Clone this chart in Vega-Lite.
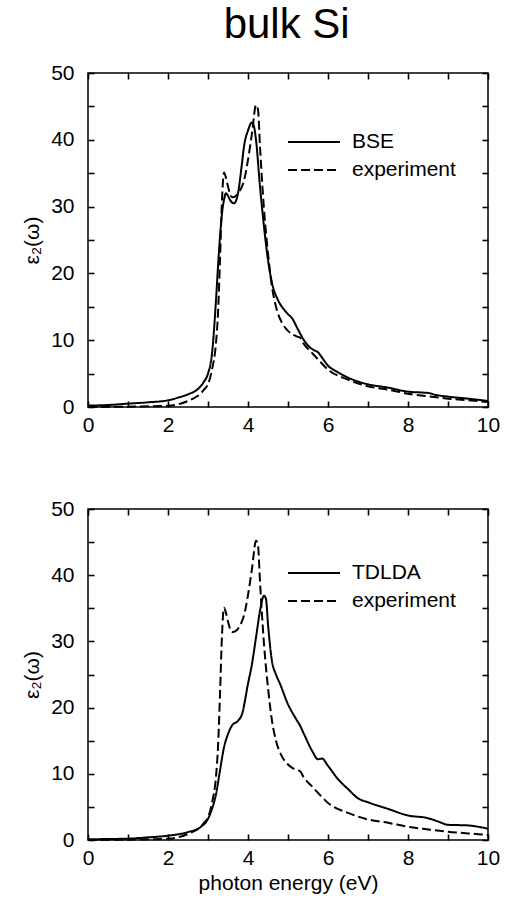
{
  "$schema": "https://vega.github.io/schema/vega-lite/v6.json",
  "padding": {"left": 20, "top": 4, "right": 5, "bottom": 5},
  "title": {"text": "bulk Si", "fontSize": 42, "fontWeight": "normal", "font": "Liberation Sans", "color": "black", "anchor": "middle", "offset": 14, "dx": 26},
  "config": {
    "font": "Liberation Sans",
    "view": {"stroke": "black", "strokeWidth": 1.5},
    "axis": {"grid": false, "domain": false, "ticks": true, "tickColor": "black", "tickOpacity": 1, "tickSize": 6, "offset": -6, "tickWidth": 1.6, "zindex": 1,
      "labelFontSize": 21, "labelColor": "black", "labelFont": "Liberation Sans", "labelFlush": false, "labelOverlap": false,
      "titleFontSize": 21, "titleFontWeight": "normal", "titleColor": "black", "titleFont": "Liberation Sans"},
    "legend": {"orient": "none", "title": null, "symbolType": "M-1,0H3", "symbolSize": 676, "symbolStrokeWidth": 2,
      "symbolStrokeColor": "black", "labelFontSize": 21, "labelColor": "black", "labelFont": "Liberation Sans", "labelOffset": 37, "rowPadding": 4}
  },
  "datasets": {
    "top": [
      {"E":0,"eps":0.2,"s":"BSE"},{"E":0.5,"eps":0.3,"s":"BSE"},{"E":1,"eps":0.5,"s":"BSE"},{"E":1.5,"eps":0.7,"s":"BSE"},{"E":2,"eps":1.0,"s":"BSE"},{"E":2.25,"eps":1.4,"s":"BSE"},{"E":2.5,"eps":1.9,"s":"BSE"},{"E":2.75,"eps":2.7,"s":"BSE"},{"E":2.9,"eps":3.8,"s":"BSE"},{"E":3.0,"eps":5,"s":"BSE"},{"E":3.1,"eps":8,"s":"BSE"},{"E":3.2,"eps":16,"s":"BSE"},{"E":3.25,"eps":21,"s":"BSE"},{"E":3.3,"eps":25.5,"s":"BSE"},{"E":3.35,"eps":29,"s":"BSE"},{"E":3.4,"eps":31,"s":"BSE"},{"E":3.45,"eps":32,"s":"BSE"},{"E":3.5,"eps":31.6,"s":"BSE"},{"E":3.55,"eps":31,"s":"BSE"},{"E":3.65,"eps":30.5,"s":"BSE"},{"E":3.75,"eps":32,"s":"BSE"},{"E":3.85,"eps":36.5,"s":"BSE"},{"E":3.9,"eps":39,"s":"BSE"},{"E":4.0,"eps":41.4,"s":"BSE"},{"E":4.1,"eps":42.6,"s":"BSE"},{"E":4.15,"eps":42,"s":"BSE"},{"E":4.2,"eps":40,"s":"BSE"},{"E":4.3,"eps":33,"s":"BSE"},{"E":4.4,"eps":27,"s":"BSE"},{"E":4.5,"eps":22,"s":"BSE"},{"E":4.6,"eps":18.6,"s":"BSE"},{"E":4.75,"eps":16,"s":"BSE"},{"E":4.9,"eps":14.6,"s":"BSE"},{"E":5.0,"eps":13.9,"s":"BSE"},{"E":5.1,"eps":13.3,"s":"BSE"},{"E":5.25,"eps":11.6,"s":"BSE"},{"E":5.4,"eps":10,"s":"BSE"},{"E":5.5,"eps":9.2,"s":"BSE"},{"E":5.65,"eps":8.5,"s":"BSE"},{"E":5.75,"eps":8.2,"s":"BSE"},{"E":5.85,"eps":7.4,"s":"BSE"},{"E":6.0,"eps":6.2,"s":"BSE"},{"E":6.25,"eps":5.2,"s":"BSE"},{"E":6.5,"eps":4.4,"s":"BSE"},{"E":7.0,"eps":3.4,"s":"BSE"},{"E":7.5,"eps":2.9,"s":"BSE"},{"E":8.0,"eps":2.3,"s":"BSE"},{"E":8.4,"eps":2.15,"s":"BSE"},{"E":8.5,"eps":2.1,"s":"BSE"},{"E":8.7,"eps":1.8,"s":"BSE"},{"E":9.0,"eps":1.55,"s":"BSE"},{"E":9.5,"eps":1.25,"s":"BSE"},{"E":10,"eps":0.9,"s":"BSE"},
      {"E":0,"eps":0.0,"s":"experiment"},{"E":0.5,"eps":0.02,"s":"experiment"},{"E":1,"eps":0.05,"s":"experiment"},{"E":1.5,"eps":0.1,"s":"experiment"},{"E":2,"eps":0.2,"s":"experiment"},{"E":2.25,"eps":0.4,"s":"experiment"},{"E":2.5,"eps":0.9,"s":"experiment"},{"E":2.7,"eps":1.5,"s":"experiment"},{"E":2.8,"eps":1.9,"s":"experiment"},{"E":2.9,"eps":2.6,"s":"experiment"},{"E":3.0,"eps":3.4,"s":"experiment"},{"E":3.1,"eps":5.6,"s":"experiment"},{"E":3.2,"eps":9.6,"s":"experiment"},{"E":3.25,"eps":14,"s":"experiment"},{"E":3.3,"eps":22,"s":"experiment"},{"E":3.35,"eps":31,"s":"experiment"},{"E":3.4,"eps":35.1,"s":"experiment"},{"E":3.45,"eps":34.3,"s":"experiment"},{"E":3.5,"eps":33,"s":"experiment"},{"E":3.6,"eps":31.4,"s":"experiment"},{"E":3.7,"eps":31.6,"s":"experiment"},{"E":3.8,"eps":32.4,"s":"experiment"},{"E":3.9,"eps":33.9,"s":"experiment"},{"E":4.0,"eps":37,"s":"experiment"},{"E":4.1,"eps":41,"s":"experiment"},{"E":4.2,"eps":45.2,"s":"experiment"},{"E":4.25,"eps":44.5,"s":"experiment"},{"E":4.3,"eps":39,"s":"experiment"},{"E":4.4,"eps":29.6,"s":"experiment"},{"E":4.5,"eps":23,"s":"experiment"},{"E":4.6,"eps":18,"s":"experiment"},{"E":4.7,"eps":15,"s":"experiment"},{"E":4.85,"eps":12.6,"s":"experiment"},{"E":5.0,"eps":11.4,"s":"experiment"},{"E":5.2,"eps":10.6,"s":"experiment"},{"E":5.3,"eps":10.4,"s":"experiment"},{"E":5.4,"eps":9.4,"s":"experiment"},{"E":5.6,"eps":8.1,"s":"experiment"},{"E":5.8,"eps":6.8,"s":"experiment"},{"E":6.0,"eps":5.6,"s":"experiment"},{"E":6.5,"eps":4.1,"s":"experiment"},{"E":7.0,"eps":3.1,"s":"experiment"},{"E":7.5,"eps":2.6,"s":"experiment"},{"E":8.0,"eps":2.0,"s":"experiment"},{"E":8.5,"eps":1.6,"s":"experiment"},{"E":9.0,"eps":1.25,"s":"experiment"},{"E":9.5,"eps":1.0,"s":"experiment"},{"E":10,"eps":0.75,"s":"experiment"}
    ],
    "bottom": [
      {"E":0,"eps":0.1,"s":"TDLDA"},{"E":0.5,"eps":0.15,"s":"TDLDA"},{"E":1,"eps":0.2,"s":"TDLDA"},{"E":1.5,"eps":0.4,"s":"TDLDA"},{"E":2,"eps":0.65,"s":"TDLDA"},{"E":2.5,"eps":1.2,"s":"TDLDA"},{"E":2.8,"eps":1.9,"s":"TDLDA"},{"E":3.0,"eps":3.2,"s":"TDLDA"},{"E":3.1,"eps":4.7,"s":"TDLDA"},{"E":3.2,"eps":6.9,"s":"TDLDA"},{"E":3.3,"eps":10.5,"s":"TDLDA"},{"E":3.4,"eps":14,"s":"TDLDA"},{"E":3.5,"eps":16,"s":"TDLDA"},{"E":3.6,"eps":17.3,"s":"TDLDA"},{"E":3.75,"eps":18,"s":"TDLDA"},{"E":3.85,"eps":19,"s":"TDLDA"},{"E":4.0,"eps":23.6,"s":"TDLDA"},{"E":4.1,"eps":26.6,"s":"TDLDA"},{"E":4.2,"eps":30.6,"s":"TDLDA"},{"E":4.3,"eps":34.6,"s":"TDLDA"},{"E":4.4,"eps":36.9,"s":"TDLDA"},{"E":4.45,"eps":36.4,"s":"TDLDA"},{"E":4.5,"eps":32.6,"s":"TDLDA"},{"E":4.6,"eps":27,"s":"TDLDA"},{"E":4.7,"eps":25,"s":"TDLDA"},{"E":4.8,"eps":23.6,"s":"TDLDA"},{"E":5.0,"eps":20.5,"s":"TDLDA"},{"E":5.2,"eps":18.3,"s":"TDLDA"},{"E":5.3,"eps":17.3,"s":"TDLDA"},{"E":5.4,"eps":16,"s":"TDLDA"},{"E":5.6,"eps":13.5,"s":"TDLDA"},{"E":5.75,"eps":12.2,"s":"TDLDA"},{"E":5.85,"eps":12.3,"s":"TDLDA"},{"E":6.0,"eps":11.2,"s":"TDLDA"},{"E":6.25,"eps":9.2,"s":"TDLDA"},{"E":6.5,"eps":7.7,"s":"TDLDA"},{"E":6.75,"eps":6.3,"s":"TDLDA"},{"E":7.0,"eps":5.7,"s":"TDLDA"},{"E":7.5,"eps":4.7,"s":"TDLDA"},{"E":8.0,"eps":3.7,"s":"TDLDA"},{"E":8.5,"eps":3.3,"s":"TDLDA"},{"E":8.75,"eps":2.8,"s":"TDLDA"},{"E":9.0,"eps":2.3,"s":"TDLDA"},{"E":9.5,"eps":2.2,"s":"TDLDA"},{"E":10,"eps":1.7,"s":"TDLDA"},
      {"E":0,"eps":0.0,"s":"experiment"},{"E":0.5,"eps":0.02,"s":"experiment"},{"E":1,"eps":0.05,"s":"experiment"},{"E":1.5,"eps":0.1,"s":"experiment"},{"E":2,"eps":0.2,"s":"experiment"},{"E":2.25,"eps":0.4,"s":"experiment"},{"E":2.5,"eps":0.9,"s":"experiment"},{"E":2.7,"eps":1.5,"s":"experiment"},{"E":2.8,"eps":1.9,"s":"experiment"},{"E":2.9,"eps":2.6,"s":"experiment"},{"E":3.0,"eps":3.4,"s":"experiment"},{"E":3.1,"eps":5.6,"s":"experiment"},{"E":3.2,"eps":9.6,"s":"experiment"},{"E":3.25,"eps":14,"s":"experiment"},{"E":3.3,"eps":22,"s":"experiment"},{"E":3.35,"eps":31,"s":"experiment"},{"E":3.4,"eps":35.1,"s":"experiment"},{"E":3.45,"eps":34.3,"s":"experiment"},{"E":3.5,"eps":33,"s":"experiment"},{"E":3.6,"eps":31.4,"s":"experiment"},{"E":3.7,"eps":31.6,"s":"experiment"},{"E":3.8,"eps":32.4,"s":"experiment"},{"E":3.9,"eps":33.9,"s":"experiment"},{"E":4.0,"eps":37,"s":"experiment"},{"E":4.1,"eps":41,"s":"experiment"},{"E":4.2,"eps":45.2,"s":"experiment"},{"E":4.25,"eps":44.5,"s":"experiment"},{"E":4.3,"eps":39,"s":"experiment"},{"E":4.4,"eps":29.6,"s":"experiment"},{"E":4.5,"eps":23,"s":"experiment"},{"E":4.6,"eps":18,"s":"experiment"},{"E":4.7,"eps":15,"s":"experiment"},{"E":4.85,"eps":12.6,"s":"experiment"},{"E":5.0,"eps":11.4,"s":"experiment"},{"E":5.2,"eps":10.6,"s":"experiment"},{"E":5.3,"eps":10.4,"s":"experiment"},{"E":5.4,"eps":9.4,"s":"experiment"},{"E":5.6,"eps":8.1,"s":"experiment"},{"E":5.8,"eps":6.8,"s":"experiment"},{"E":6.0,"eps":5.6,"s":"experiment"},{"E":6.5,"eps":4.1,"s":"experiment"},{"E":7.0,"eps":3.1,"s":"experiment"},{"E":7.5,"eps":2.6,"s":"experiment"},{"E":8.0,"eps":2.0,"s":"experiment"},{"E":8.5,"eps":1.6,"s":"experiment"},{"E":9.0,"eps":1.25,"s":"experiment"},{"E":9.5,"eps":1.0,"s":"experiment"},{"E":10,"eps":0.75,"s":"experiment"}
    ]
  },
  "spacing": 61,
  "resolve": {"scale": {"strokeDash": "independent"}, "legend": {"strokeDash": "independent"}},
  "vconcat": [
    {
      "width": 400, "height": 334,
      "data": {"name": "top"},
      "layer": [
        {"mark": {"type": "line", "color": "black", "strokeWidth": 2, "interpolate": "monotone"},
         "encoding": {
           "x": {"field": "E", "type": "quantitative", "scale": {"domain": [0, 10], "nice": false},
                 "axis": {"values": [0,1,2,3,4,5,6,7,8,9,10], "labelExpr": "datum.value % 2 === 0 ? datum.label : ''", "title": null, "labelPadding": 7}},
           "y": {"field": "eps", "type": "quantitative", "scale": {"domain": [0, 50], "nice": false},
                 "axis": {"values": [0,5,10,15,20,25,30,35,40,45,50], "labelExpr": "datum.value % 10 === 0 ? datum.label : ''", "title": "ε₂(ω)", "labelPadding": 14, "titlePadding": 8}},
           "strokeDash": {"field": "s", "type": "nominal", "scale": {"domain": ["BSE", "experiment"], "range": [[1, 0], [9, 4]]},
                 "legend": {"legendX": 199, "legendY": 55}}
         }},
        {"mark": {"type": "line", "opacity": 0},
         "encoding": {
           "x": {"field": "E", "type": "quantitative", "axis": {"orient": "top", "labels": false, "values": [0,1,2,3,4,5,6,7,8,9,10], "title": null}},
           "y": {"field": "eps", "type": "quantitative", "axis": {"orient": "right", "labels": false, "values": [0,5,10,15,20,25,30,35,40,45,50], "title": null}},
           "detail": {"field": "s"}
         }}
      ],
      "resolve": {"axis": {"x": "independent", "y": "independent"}}
    },
    {
      "width": 400, "height": 331,
      "data": {"name": "bottom"},
      "layer": [
        {"mark": {"type": "line", "color": "black", "strokeWidth": 2, "interpolate": "monotone"},
         "encoding": {
           "x": {"field": "E", "type": "quantitative", "scale": {"domain": [0, 10], "nice": false},
                 "axis": {"values": [0,1,2,3,4,5,6,7,8,9,10], "labelExpr": "datum.value % 2 === 0 ? datum.label : ''", "title": "photon energy (eV)", "labelPadding": 7, "titlePadding": 4}},
           "y": {"field": "eps", "type": "quantitative", "scale": {"domain": [0, 50], "nice": false},
                 "axis": {"values": [0,5,10,15,20,25,30,35,40,45,50], "labelExpr": "datum.value % 10 === 0 ? datum.label : ''", "title": "ε₂(ω)", "labelPadding": 14, "titlePadding": 8}},
           "strokeDash": {"field": "s", "type": "nominal", "scale": {"domain": ["TDLDA", "experiment"], "range": [[1, 0], [9, 4]]},
                 "legend": {"legendX": 199, "legendY": 50}}
         }},
        {"mark": {"type": "line", "opacity": 0},
         "encoding": {
           "x": {"field": "E", "type": "quantitative", "axis": {"orient": "top", "labels": false, "values": [0,1,2,3,4,5,6,7,8,9,10], "title": null}},
           "y": {"field": "eps", "type": "quantitative", "axis": {"orient": "right", "labels": false, "values": [0,5,10,15,20,25,30,35,40,45,50], "title": null}},
           "detail": {"field": "s"}
         }}
      ],
      "resolve": {"axis": {"x": "independent", "y": "independent"}}
    }
  ]
}
